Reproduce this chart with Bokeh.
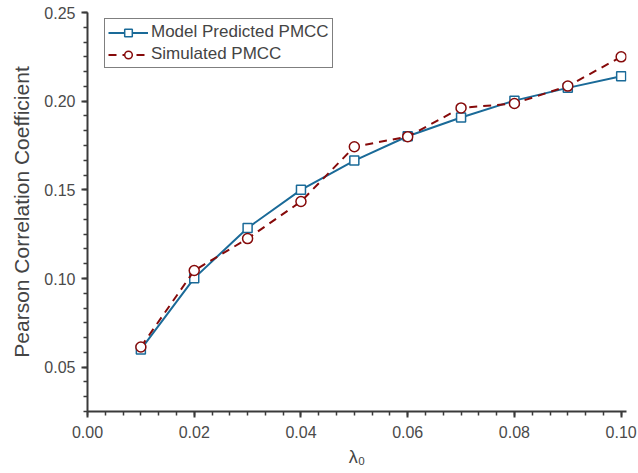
from bokeh.plotting import figure
from bokeh.models import Range1d, Legend, LegendItem, SingleIntervalTicker, NumeralTickFormatter
from bokeh.embed import file_html
from bokeh.resources import INLINE

lam = [0.01, 0.02, 0.03, 0.04, 0.05, 0.06, 0.07, 0.08, 0.09, 0.10]
model_pmcc = [0.0600, 0.1002, 0.1285, 0.1500, 0.1665, 0.1802, 0.1908, 0.2003, 0.2075, 0.2140]
sim_pmcc = [0.0614, 0.1045, 0.1225, 0.1434, 0.1743, 0.1800, 0.1962, 0.1987, 0.2085, 0.2250]

BLUE = "#1a6a98"
RED = "#860a0a"
FONT = "Liberation Sans"
GREY = "#3a3a3a"

p = figure(width=638, height=473, output_backend="svg", toolbar_location=None,
           x_range=Range1d(0.0, 0.101), y_range=Range1d(0.025, 0.25),
           min_border_left=87, min_border_right=12, min_border_top=12, min_border_bottom=62)
p.outline_line_color = None
p.grid.visible = False
p.background_fill_color = "white"
p.border_fill_color = "white"

l1 = p.line(lam, model_pmcc, line_color=BLUE, line_width=2)
s1 = p.scatter(lam, model_pmcc, marker="square", size=9, fill_color="white", line_color=BLUE, line_width=1.5)
l2 = p.line(lam, sim_pmcc, line_color=RED, line_width=2, line_dash="8 6")
s2 = p.scatter(lam, sim_pmcc, marker="circle", size=10, fill_color="white", line_color=RED, line_width=1.5)

p.xaxis.ticker = SingleIntervalTicker(interval=0.02, num_minor_ticks=6)
p.yaxis.ticker = SingleIntervalTicker(interval=0.05, num_minor_ticks=6)
p.xaxis.formatter = NumeralTickFormatter(format="0.00")
p.yaxis.formatter = NumeralTickFormatter(format="0.00")

for ax in (p.xaxis, p.yaxis):
    ax.axis_line_color = GREY
    ax.axis_line_width = 2
    ax.major_tick_line_color = GREY
    ax.minor_tick_line_color = GREY
    ax.major_tick_line_width = 2
    ax.minor_tick_line_width = 1.5
    ax.major_tick_out = 6
    ax.major_tick_in = 0
    ax.minor_tick_out = 4
    ax.minor_tick_in = 0
    ax.major_label_text_font = FONT
    ax.major_label_text_font_size = "16px"
    ax.major_label_text_color = "#4a4a4a"
    ax.axis_label_text_font = FONT
    ax.axis_label_text_font_style = "normal"
    ax.axis_label_text_color = "#444444"

p.xaxis.major_label_standoff = 8
p.yaxis.major_label_standoff = 6
p.xaxis.axis_label = "λ₀"
p.xaxis.axis_label_text_font_size = "18px"
p.xaxis.axis_label_standoff = 6
p.yaxis.axis_label = "Pearson Correlation Coefficient"
p.yaxis.axis_label_text_font_size = "21px"
p.yaxis.axis_label_standoff = 8

legend = Legend(items=[LegendItem(label="Model Predicted PMCC", renderers=[l1, s1]),
                       LegendItem(label="Simulated PMCC", renderers=[l2, s2])],
                location=(17, 343))
legend.border_line_color = "black"
legend.border_line_width = 1
legend.background_fill_alpha = 1
legend.label_text_font = FONT
legend.label_text_font_size = "17px"
legend.label_text_color = "#444444"
legend.glyph_width = 40
legend.glyph_height = 19
legend.label_height = 19
legend.spacing = 2
legend.padding = 3
legend.margin = 0
legend.label_standoff = 3
p.add_layout(legend)

open("out.html", "w").write(file_html(p, INLINE))
